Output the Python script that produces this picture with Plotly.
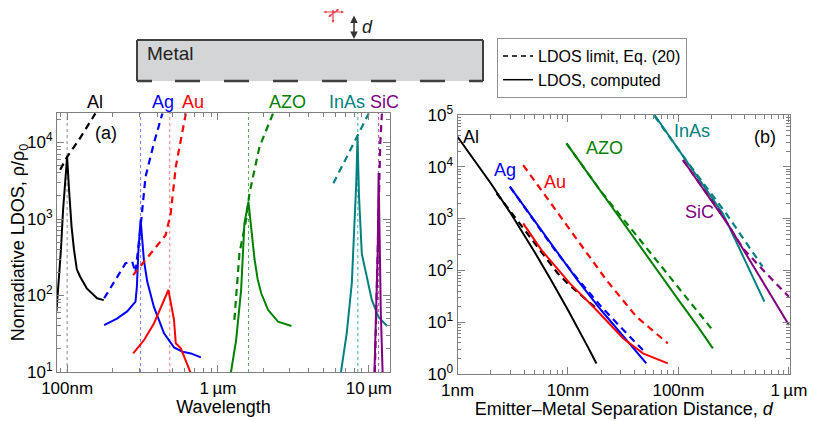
import plotly.graph_objects as go

# ---- (a) LDOS vs wavelength (nm) ----
al_wl = [85, 88, 91, 94, 97, 100, 103, 107, 111, 116, 122, 135, 158, 175]
al_ldos = [62, 150, 400, 1300, 3500, 6500, 2400, 800, 400, 220, 176, 124, 92, 87]
al_wl_lim = [90, 100, 120, 154]
al_lim = [4400, 6500, 10900, 24000]

ag_wl = [176, 214, 250, 277, 284, 290, 297, 307, 315, 323, 340, 376, 439, 511, 582, 661, 770]
ag_ldos = [41, 50, 62, 79, 83, 130, 400, 980, 500, 287, 151, 71, 32, 21, 18.4, 17.5, 15.5]
ag_wl_lim = [176, 210, 244, 270, 284, 307, 331, 376, 428]
ag_lim = [92, 160, 264, 277, 200, 800, 3570, 9800, 24000]

au_wl = [274, 323, 376, 438, 469, 511, 525, 567, 612, 661]
au_ldos = [17.5, 26, 43, 87, 118, 48, 23.7, 20.4, 14.4, 9.6]
au_wl_lim = [274, 450, 486, 525, 612]
au_lim = [185, 617, 1180, 4800, 24000]

azo_wl = [1220, 1318, 1423, 1496, 1592, 1650, 1703, 1746, 1835, 1935, 2145, 2500, 3067]
azo_ldos = [10, 26, 117, 870, 1680, 800, 435, 300, 160, 107, 65, 45.5, 40]
azo_wl_lim = [1284, 1387, 1537, 1617, 1884, 2317]
azo_lim = [48, 355, 980, 2170, 8800, 24000]

inas_wl = [6531, 7130, 7707, 8030, 8250, 8410, 8600, 8980, 9700, 10470, 11600, 13200]
inas_ldos = [10, 32, 145, 870, 3000, 11900, 2000, 350, 176, 87, 52, 40]
inas_wl_lim = [5820, 8410, 9980]
inas_lim = [2930, 12300, 24000]

sic_wl = [10890, 11200, 11450, 11600, 11750, 12000, 12330]
sic_ldos = [10, 60, 400, 4000, 400, 60, 10]
sic_wl_lim = [10950, 11200, 11450, 11650, 11900, 12200]
sic_lim = [10, 60, 500, 3000, 10000, 24000]

resonance_nm = [100, 307, 479, 1592, 8450, 11600]
resonance_col = ["#888888", "#7777ff", "#ff7777", "#55aa55", "#44aaaa", "#aa55aa"]

# ---- (b) LDOS vs separation distance d (nm) ----
al_d = [1, 2, 3, 5, 7, 10, 15, 18.1]
al_d_ldos = [38000, 4820, 1306, 225, 66, 17.2, 3.45, 1.6]
al_d_lim_x = [2.26, 4, 6, 8, 10, 14, 18.1]
al_d_lim = [3090, 620, 200, 90, 55, 30, 18.5]

ag_d = [2.98, 5, 7.6, 12, 20, 30, 51.2]
ag_d_ldos = [4130, 900, 248, 68, 17, 6, 1.6]
ag_d_lim_x = [2.98, 7.6, 12, 20, 30, 47.7]
ag_d_lim = [4130, 250, 72, 20, 8, 2.9]

au_d = [3.93, 5.76, 10.4, 18.1, 31.5, 47.7, 80.2]
au_d_ldos = [810, 247, 56, 17.2, 4.9, 2.5, 1.6]
au_d_lim_x = [3.93, 14.7, 22.3, 41.6, 60, 80.2]
au_d_lim = [10800, 214, 65, 12.8, 6.5, 3.9]

azo_d = [9.69, 20, 47.7, 100, 150, 205]
azo_d_ldos = [28400, 3230, 248, 27, 8.2, 3.13]
azo_d_lim_x = [9.69, 20, 54.8, 123, 198]
azo_d_lim = [28400, 3300, 229, 27, 7.6]

inas_d = [60.8, 150, 252, 350, 487, 600]
inas_d_ldos = [100000, 6170, 1260, 287, 65, 24.9]
inas_d_lim_x = [60.8, 117, 270, 578]
inas_d_lim = [95000, 13500, 1260, 118]

sic_d = [110, 290, 500, 1000]
sic_d_ldos = [13500, 698, 102, 8.8]
sic_d_lim_x = [110, 250, 382, 600, 1000]
sic_d_lim = [13500, 1150, 270, 95, 31]

BLACK, BLUE, RED, GREEN, TEAL, PURPLE = "#000000", "#0000ff", "#ff0000", "#008000", "#008080", "#800080"
FONT = "Liberation Sans, Arial, sans-serif"
# the page adds an 8px body margin, so the figure is 8px smaller and offset
OFF = 8
W, H = 831 - OFF, 421 - OFF


def px(x):
    return (x - OFF) / W


def py(y):
    return 1 - (y - OFF) / H


fig = go.Figure()

left = [
    (al_wl, al_ldos, al_wl_lim, al_lim, BLACK),
    (ag_wl, ag_ldos, ag_wl_lim, ag_lim, BLUE),
    (au_wl, au_ldos, au_wl_lim, au_lim, RED),
    (azo_wl, azo_ldos, azo_wl_lim, azo_lim, GREEN),
    (inas_wl, inas_ldos, inas_wl_lim, inas_lim, TEAL),
    (sic_wl, sic_ldos, sic_wl_lim, sic_lim, PURPLE),
]
right = [
    (al_d, al_d_ldos, al_d_lim_x, al_d_lim, BLACK),
    (ag_d, ag_d_ldos, ag_d_lim_x, ag_d_lim, BLUE),
    (au_d, au_d_ldos, au_d_lim_x, au_d_lim, RED),
    (azo_d, azo_d_ldos, azo_d_lim_x, azo_d_lim, GREEN),
    (inas_d, inas_d_ldos, inas_d_lim_x, inas_d_lim, TEAL),
    (sic_d, sic_d_ldos, sic_d_lim_x, sic_d_lim, PURPLE),
]

for xa, ya, data in [("x", "y", left), ("x2", "y2", right)]:
    for xs, ys, xl, yl, col in data:
        fig.add_trace(go.Scatter(x=xl, y=yl, mode="lines", xaxis=xa, yaxis=ya,
                                 line=dict(color=col, width=2.2, dash="7px,5px"),
                                 showlegend=False))
        fig.add_trace(go.Scatter(x=xs, y=ys, mode="lines", xaxis=xa, yaxis=ya,
                                 line=dict(color=col, width=2), showlegend=False))

# legend entries
fig.add_trace(go.Scatter(x=[None], y=[None], mode="lines", name="LDOS limit, Eq. (20)",
                         line=dict(color="black", width=1.5, dash="5px,4px")))
fig.add_trace(go.Scatter(x=[None], y=[None], mode="lines", name="LDOS, computed",
                         line=dict(color="black", width=1.5)))

shapes = []
for lam, col in zip(resonance_nm, resonance_col):
    shapes.append(dict(type="line", xref="x", yref="y domain", x0=lam, x1=lam, y0=0, y1=1,
                       line=dict(color=col, width=1, dash="dot"), layer="below"))

# schematic of metal slab
shapes.append(dict(type="rect", xref="paper", yref="paper", x0=px(137), x1=px(483),
                   y0=py(81), y1=py(40), fillcolor="#d4d5d7", line=dict(width=0)))
for x0, y0, x1, y1 in [(137, 40, 483, 40), (137, 40, 137, 81), (483, 40, 483, 81)]:
    shapes.append(dict(type="line", xref="paper", yref="paper", x0=px(x0), y0=py(y0),
                       x1=px(x1), y1=py(y1), line=dict(color="#404040", width=2)))
shapes.append(dict(type="line", xref="paper", yref="paper", x0=px(137), y0=py(81),
                   x1=px(483), y1=py(81),
                   line=dict(color="#404040", width=2.5,
                             dash="15px,23px,25px,24px,25px,24px,25px,24px,25px,24px,"
                                  "25px,24px,25px,24px,25px")))

ann = []


def label(x, y, text, col, size=18, anchor="center", italic=False):
    ann.append(dict(x=px(x), y=py(y), xref="paper", yref="paper", text=text,
                    showarrow=False, xanchor=anchor, yanchor="middle",
                    font=dict(family=FONT, size=size, color=col,
                              style="italic" if italic else "normal")))


label(145, 53, "Metal", "#222", size=19, anchor="left")
label(360, 27, "d", "#222", size=18, anchor="left", italic=True)

for x, text, col in [(95, "Al", BLACK), (163, "Ag", BLUE), (193, "Au", RED),
                     (287, "AZO", GREEN), (347, "InAs", TEAL), (384, "SiC", PURPLE)]:
    label(x, 102, text, col)
label(106, 133, "(a)", BLACK)

for x, y, text, col in [(471, 137, "Al", BLACK), (505, 170, "Ag", BLUE), (555, 182, "Au", RED),
                        (604, 148, "AZO", GREEN), (692, 131, "InAs", TEAL),
                        (699, 212, "SiC", PURPLE)]:
    label(x, y, text, col)
label(765, 137, "(b)", BLACK)

# double arrow for d
ann.append(dict(x=px(354), y=py(39), xref="paper", yref="paper", ax=0, ay=-25, text="",
                showarrow=True, arrowhead=2, arrowside="end+start", arrowsize=1,
                arrowwidth=1.5, arrowcolor="#333"))
# dipole icon
for hx, hy, dx, dy in [(344, 12, -22, 0), (333, 23, 0, -21), (339, 6, -12, 12)]:
    ann.append(dict(x=px(hx), y=py(hy), xref="paper", yref="paper", ax=dx, ay=dy, text="",
                    showarrow=True, arrowhead=2, arrowside="end+start", arrowsize=0.5,
                    arrowwidth=1.2, arrowcolor="#e8474a"))


def minor_vals(lo, hi):
    return [m * 10 ** k for k in range(lo, hi) for m in range(2, 10)]


axis_common = dict(type="log", showline=True, linecolor="#808080", linewidth=1.2,
                   mirror="ticks", ticks="inside", ticklen=7, tickcolor="#808080",
                   showgrid=False, zeroline=False, automargin=False,
                   tickfont=dict(family=FONT, size=17, color="black"))

fig.update_layout(
    width=W, height=H, margin=dict(l=0, r=0, t=0, b=0),
    paper_bgcolor="white", plot_bgcolor="white",
    font=dict(family=FONT, color="black"),
    xaxis=dict(axis_common, domain=[px(57), px(390)], range=[1.933, 4.14], anchor="y",
               tickmode="array", tickvals=[100, 1000, 10000],
               ticktext=["100nm", "1\u2009\u00b5m", "10\u2009\u00b5m"],
               minor=dict(tickmode="array", tickvals=minor_vals(1, 5), ticks="inside",
                          ticklen=3.5, tickcolor="#808080"),
               title=dict(text="Wavelength", font=dict(size=18), standoff=2)),
    yaxis=dict(axis_common, domain=[py(372), py(113)], range=[1, 4.386], anchor="x",
               tickmode="array", tickvals=[10, 100, 1000, 10000],
               ticktext=["10<sup>1</sup>", "10<sup>2</sup>", "10<sup>3</sup>", "10<sup>4</sup>"],
               minor=dict(tickmode="array", tickvals=minor_vals(1, 5), ticks="inside",
                          ticklen=3.5, tickcolor="#808080"),
               title=dict(text="Nonradiative LDOS, \u03c1/\u03c1<sub>0</sub>",
                          font=dict(size=18), standoff=4)),
    xaxis2=dict(axis_common, domain=[px(457.5), px(790)], range=[0, 3.01], anchor="y2",
                tickmode="array", tickvals=[1, 10, 100, 1000],
                ticktext=["1nm", "10nm", "100nm", "1\u2009\u00b5m"],
                minor=dict(tickmode="array", tickvals=minor_vals(0, 4), ticks="inside",
                           ticklen=3.5, tickcolor="#808080"),
                title=dict(text="Emitter\u2013Metal Separation Distance, <i>d</i>",
                           font=dict(size=18), standoff=2)),
    yaxis2=dict(axis_common, domain=[py(374), py(115)], range=[0, 5], anchor="x2",
                tickmode="array", tickvals=[1, 10, 100, 1000, 10000, 100000],
                ticktext=["10<sup>0</sup>", "10<sup>1</sup>", "10<sup>2</sup>",
                          "10<sup>3</sup>", "10<sup>4</sup>", "10<sup>5</sup>"],
                minor=dict(tickmode="array", tickvals=minor_vals(0, 5), ticks="inside",
                           ticklen=3.5, tickcolor="#808080")),
    legend=dict(x=px(497), y=py(38), xanchor="left", yanchor="top",
                bordercolor="#909090", borderwidth=1, bgcolor="white",
                font=dict(family=FONT, size=16, color="black"),
                tracegroupgap=0, itemwidth=30),
    shapes=shapes,
    annotations=ann,
)

fig.write_html("out.html")
